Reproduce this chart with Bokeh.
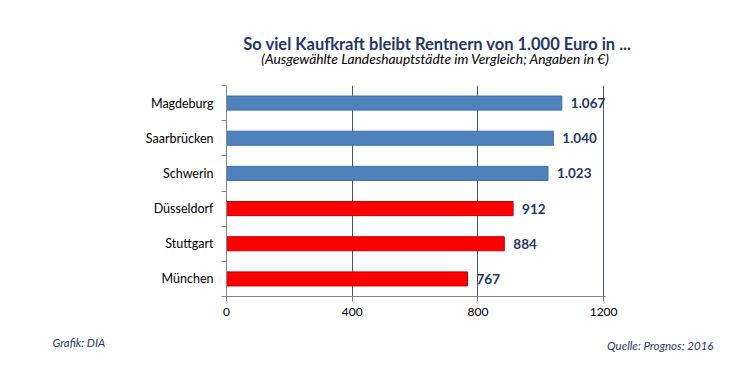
from bokeh.plotting import figure
from bokeh.models import FixedTicker, Label, Range1d, ColumnDataSource, LabelSet
from bokeh.core.properties import value
from bokeh.layouts import column
from bokeh.embed import file_html
from bokeh.resources import INLINE

cities = ["Magdeburg", "Saarbrücken", "Schwerin", "Düsseldorf", "Stuttgart", "München"]
values = [1067, 1040, 1023, 912, 884, 767]
value_labels = ["1.067", "1.040", "1.023", "912", "884", "767"]
colors = ["#4F81BD", "#4F81BD", "#4F81BD", "#FF0000", "#FF0000", "#FF0000"]
borders = ["#3A6EA8", "#3A6EA8", "#3A6EA8", "#C00000", "#C00000", "#C00000"]
x_ticks = [0, 400, 800, 1200]

n = len(cities)
ypos = [n - 0.5 - i for i in range(n)]

FONT = "Lato"
W = 742
HEAD_H = 85
MAIN_H = 245   # image y 85 .. 330
FOOT_H = 30
X_END = 1206   # a little room so the 1200 line is not clipped at the frame edge


def blank(h):
    f = figure(width=W, height=h, output_backend="svg", toolbar_location=None,
               x_range=Range1d(0, W), y_range=Range1d(h, 0),
               min_border=0, min_border_left=0, min_border_right=0, min_border_top=0, min_border_bottom=0,
               frame_align=False)
    f.axis.visible = False
    f.grid.visible = False
    f.outline_line_color = None
    f.background_fill_color = "white"
    f.border_fill_color = "white"
    return f


# header
head = blank(HEAD_H)
head.add_layout(Label(x=437, y=43, text="So viel Kaufkraft bleibt Rentnern von 1.000 Euro in ...",
                      text_font=FONT, text_font_style="bold", text_font_size="16.5px", text_color="#1F3864",
                      text_align="center", text_baseline="middle"))
head.add_layout(Label(x=435, y=58, text="(Ausgewählte Landeshauptstädte im Vergleich; Angaben in €)",
                      text_font=FONT, text_font_style="italic", text_font_size="13.8px", text_color="#000000",
                      text_align="center", text_baseline="middle"))

# main chart
p = figure(width=W, height=MAIN_H, output_backend="svg", toolbar_location=None,
           x_range=Range1d(0, X_END), y_range=Range1d(0, n), frame_align=False,
           min_border_left=226, min_border_right=W - 605, min_border_top=0, min_border_bottom=MAIN_H - (296 - 85))
p.outline_line_color = None
p.background_fill_color = "white"
p.border_fill_color = "white"

src = ColumnDataSource(dict(y=ypos, v=values, c=colors, b=borders, lab=value_labels))
p.hbar(y="y", right="v", left=0, height=0.4, fill_color="c", line_color="b", line_width=1, source=src)

labels = LabelSet(x="v", y="y", text="lab", source=src, x_offset=9, y_offset=0,
                  text_font=value(FONT), text_font_style="bold", text_font_size="13.5px",
                  text_color="#1F3864", text_baseline="middle")
p.add_layout(labels)

p.ygrid.grid_line_color = None
p.xgrid.ticker = FixedTicker(ticks=x_ticks[1:])
p.xgrid.grid_line_color = "#44546A"
p.xgrid.grid_line_width = 1

xa = p.xaxis[0]
xa.ticker = FixedTicker(ticks=x_ticks)
xa.axis_line_color = "#868686"
xa.major_tick_line_color = "#868686"
xa.major_tick_out = 5
xa.major_tick_in = 0
xa.minor_tick_line_color = None
xa.major_label_text_font = FONT
xa.major_label_text_font_size = "12px"
xa.major_label_text_color = "#000000"
xa.major_label_standoff = 6

ya = p.yaxis[0]
ya.ticker = FixedTicker(ticks=ypos, minor_ticks=list(range(0, n + 1)))
ya.major_label_overrides = {y: c for y, c in zip(ypos, cities)}
ya.axis_line_color = "#868686"
ya.major_tick_line_color = None
ya.major_tick_out = 0
ya.major_tick_in = 0
ya.minor_tick_line_color = "#868686"
ya.minor_tick_out = 5
ya.minor_tick_in = 0
ya.major_label_text_font = FONT
ya.major_label_text_font_size = "12.5px"
ya.major_label_text_color = "#000000"
ya.major_label_standoff = 8

# footer
foot = blank(FOOT_H)
foot.add_layout(Label(x=52, y=342 - 330, text="Grafik: DIA",
                      text_font=FONT, text_font_style="italic", text_font_size="11.5px", text_color="#1F3864",
                      text_align="left", text_baseline="middle"))
foot.add_layout(Label(x=713, y=345 - 330, text="Quelle: Prognos; 2016",
                      text_font=FONT, text_font_style="italic", text_font_size="11.5px", text_color="#1F3864",
                      text_align="right", text_baseline="middle"))

layout = column(head, p, foot, spacing=0)
open("out.html", "w").write(file_html(layout, INLINE))
